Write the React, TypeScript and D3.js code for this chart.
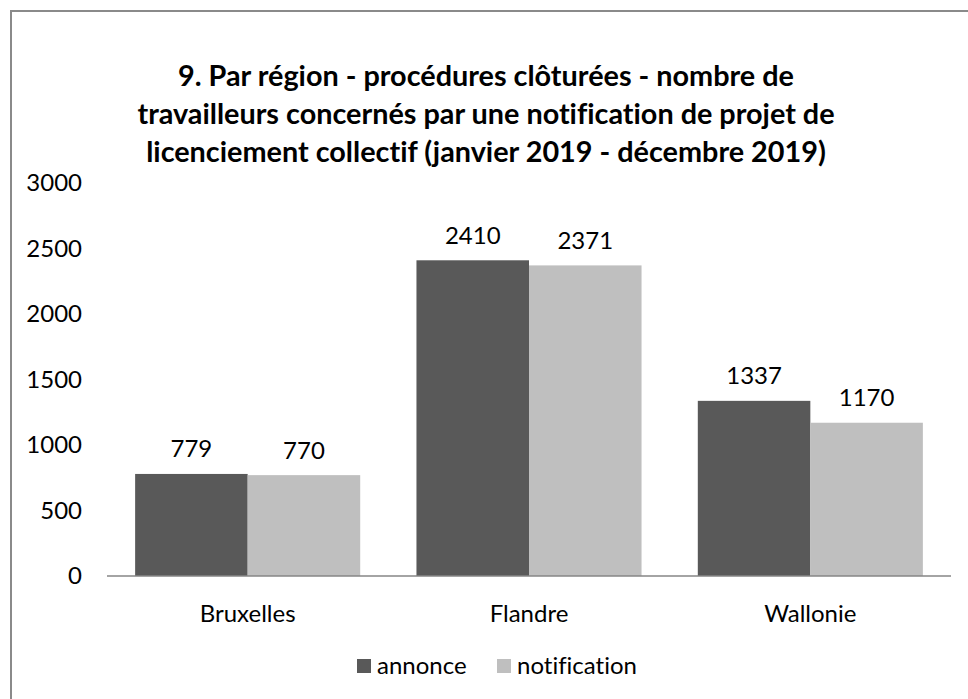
import { useEffect, useRef } from "react"
import * as d3 from "d3"

const categories = ["Bruxelles", "Flandre", "Wallonie"]
const seriesNames = ["annonce", "notification"]
const annonce = [779, 2410, 1337]
const notification = [770, 2371, 1170]
const yTicks = [0, 500, 1000, 1500, 2000, 2500, 3000]
const titleLines = [
  "9. Par région - procédures clôturées - nombre de",
  "travailleurs concernés par une notification de projet de",
  "licenciement collectif (janvier 2019 - décembre 2019)",
]
const colors = ["#595959", "#bfbfbf"]

const App = () => {
  const svgRef = useRef<SVGSVGElement>(null)

  useEffect(() => {
    const font = "Lato, 'Open Sans', sans-serif"
    const svg = d3.select(svgRef.current)
    svg.selectAll("*").remove()

    // outer frame (runs off the right and bottom edges)
    svg.append("rect")
      .attr("x", 11).attr("y", 11)
      .attr("width", 1000).attr("height", 750)
      .attr("fill", "white")
      .attr("stroke", "#8a8a8a")
      .attr("stroke-width", 2)

    svg.append("g")
      .selectAll("text")
      .data(titleLines)
      .join("text")
      .attr("x", 486)
      .attr("y", (d, i) => 76 + i * 38)
      .attr("dy", "0.35em")
      .attr("text-anchor", "middle")
      .attr("font-family", font)
      .attr("font-weight", "bold")
      .attr("font-size", 28.8)
      .attr("fill", "#000")
      .text(d => d)

    const x = d3.scaleBand().domain(categories).range([107, 951]).paddingInner(0.2).paddingOuter(0.1)
    const xs = d3.scaleBand().domain(seriesNames).range([0, x.bandwidth()])
    const y = d3.scaleLinear().domain([0, 3000]).range([576, 183])

    const data = categories.map((c, i) => ({ c, vals: [annonce[i], notification[i]] }))

    // y tick labels
    svg.append("g")
      .selectAll("text")
      .data(yTicks)
      .join("text")
      .attr("x", 82)
      .attr("y", d => y(d))
      .attr("dy", "0.35em")
      .attr("text-anchor", "end")
      .attr("font-family", font)
      .attr("font-size", 24)
      .text(d => d)

    const groups = svg.append("g")
      .selectAll("g")
      .data(data)
      .join("g")
      .attr("transform", d => `translate(${x(d.c)},0)`)

    groups.selectAll("rect")
      .data(d => d.vals.map((v, j) => ({ v, s: seriesNames[j], j })))
      .join("rect")
      .attr("x", d => xs(d.s)!)
      .attr("y", d => y(d.v))
      .attr("width", xs.bandwidth())
      .attr("height", d => y(0) - y(d.v))
      .attr("fill", d => colors[d.j])

    groups.selectAll("text")
      .data(d => d.vals.map((v, j) => ({ v, s: seriesNames[j] })))
      .join("text")
      .attr("x", d => xs(d.s)! + xs.bandwidth() / 2)
      .attr("y", d => y(d.v) - 25)
      .attr("dy", "0.35em")
      .attr("text-anchor", "middle")
      .attr("font-family", font)
      .attr("font-size", 24)
      .text(d => d.v)

    // x axis line
    svg.append("line")
      .attr("x1", 107).attr("x2", 951)
      .attr("y1", y(0)).attr("y2", y(0))
      .attr("stroke", "#868686")
      .attr("stroke-width", 1.5)

    svg.append("g")
      .selectAll("text")
      .data(categories)
      .join("text")
      .attr("x", d => x(d)! + x.bandwidth() / 2)
      .attr("y", 614)
      .attr("dy", "0.35em")
      .attr("text-anchor", "middle")
      .attr("font-family", font)
      .attr("font-size", 24)
      .text(d => d)

    // legend
    const legendX = [357, 497]
    const legend = svg.append("g")
      .selectAll("g")
      .data(seriesNames)
      .join("g")
      .attr("transform", (d, i) => `translate(${legendX[i]},666)`)
    legend.append("rect")
      .attr("x", 0).attr("y", -7)
      .attr("width", 14).attr("height", 14)
      .attr("fill", (d, i) => colors[i])
    legend.append("text")
      .attr("x", 20)
      .attr("dy", "0.35em")
      .attr("font-family", font)
      .attr("font-size", 24)
      .text(d => d)

    svg.selectAll("text").style("font-variant-ligatures", "none")
  }, [])

  return (
    <div>
      <svg ref={svgRef} width={968} height={699}
        style={{ position: "absolute", left: 0, top: 0, background: "white" }} />
    </div>
  )
}

export default App
